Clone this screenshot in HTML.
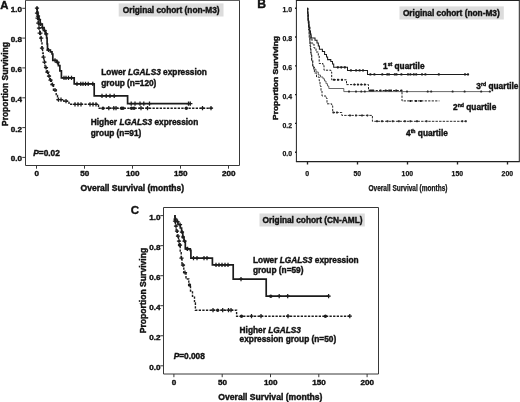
<!DOCTYPE html>
<html lang="en">
<head>
<meta charset="utf-8">
<title>Overall survival by LGALS3 expression</title>
<style>
html,body{margin:0;padding:0;background:#fff;}
body{width:520px;height:402px;overflow:hidden;}
svg{display:block;font-family:"Liberation Sans", sans-serif;fill:#111;filter:blur(.3px);}
text{stroke:#111;stroke-width:.4px;paint-order:stroke;}
text.n{stroke-width:.25px;}
</style>
</head>
<body>
<svg width="520" height="402" viewBox="0 0 520 402">
<rect width="520" height="402" fill="#fff"/>
<path d="M25.5 0.3 H239.5 V165.5 H25.5 Z" fill="none" stroke="#383838" stroke-width="1.0"/>
<path d="M36.5 165.5 v3.2 M84.5 165.5 v3.2 M132.5 165.5 v3.2 M180.5 165.5 v3.2 M228.5 165.5 v3.2 M25.5 8.3 h-3.2 M25.5 38.1 h-3.2 M25.5 67.9 h-3.2 M25.5 97.8 h-3.2 M25.5 127.6 h-3.2 M25.5 157.4 h-3.2 " fill="none" stroke="#383838" stroke-width="1.0"/>
<text x="22.0" y="12.3" font-size="8.1" font-weight="bold" text-anchor="end" >1.0</text>
<text x="22.0" y="42.1" font-size="8.1" font-weight="bold" text-anchor="end" >0.8</text>
<text x="22.0" y="71.9" font-size="8.1" font-weight="bold" text-anchor="end" >0.6</text>
<text x="22.0" y="101.8" font-size="8.1" font-weight="bold" text-anchor="end" >0.4</text>
<text x="22.0" y="131.6" font-size="8.1" font-weight="bold" text-anchor="end" >0.2</text>
<text x="22.0" y="161.4" font-size="8.1" font-weight="bold" text-anchor="end" >0.0</text>
<text x="36.7" y="176.3" font-size="8.1" font-weight="bold" text-anchor="middle" >0</text>
<text x="84.7" y="176.3" font-size="8.1" font-weight="bold" text-anchor="middle" >50</text>
<text x="132.7" y="176.3" font-size="8.1" font-weight="bold" text-anchor="middle" >100</text>
<text x="180.7" y="176.3" font-size="8.1" font-weight="bold" text-anchor="middle" >150</text>
<text x="228.7" y="176.3" font-size="8.1" font-weight="bold" text-anchor="middle" >200</text>
<text x="132.3" y="191.0" font-size="8.55" font-weight="bold" text-anchor="middle" >Overall Survival (months)</text>
<text transform="translate(8.2 84) rotate(-90)" font-size="8.45" font-weight="bold" text-anchor="middle">Proportion Surviving</text>
<text x="0.2" y="8.6" font-size="11.3" font-weight="bold" text-anchor="start" >A</text>
<rect x="118.7" y="3.4" width="104.8" height="13.1" fill="#dcdcdc"/>
<text x="171.2" y="13.2" font-size="8.3" font-weight="bold" text-anchor="middle" >Original cohort (non-M3)</text>
<text x="101.3" y="75.3" font-size="8.3" font-weight="bold" text-anchor="start" >Lower <tspan font-style="italic">LGALS3</tspan> expression</text>
<text x="101.3" y="85.5" font-size="8.3" font-weight="bold" text-anchor="start" >group (n=120)</text>
<text x="90.8" y="125.0" font-size="8.3" font-weight="bold" text-anchor="start" >Higher <tspan font-style="italic">LGALS3</tspan> expression</text>
<text x="90.8" y="135.5" font-size="8.3" font-weight="bold" text-anchor="start" >group (n=91)</text>
<text x="33.3" y="156.3" font-size="8.3" font-weight="bold" text-anchor="start" ><tspan font-style="italic">P</tspan>=0.02</text>
<path d="M36.50 8.20 H37.20 V12.00 H37.90 V16.00 H38.80 V19.50 H40.20 V24.00 H42.30 V27.60 H44.00 V30.50 H45.50 V33.80 H46.60 V38.00 H47.10 V44.00 H47.50 V50.00 H50.40 V51.80 H52.00 V54.00 H52.80 V60.30 H56.70 V62.40 H58.40 V65.60 H59.90 V70.90 H61.40 V77.80 H74.20 V83.80 H94.20 V95.80 H127.60 V103.60 H190.00 V103.60" fill="none" stroke="#1c1c1c" stroke-width="1.7"/>
<path d="M34.90 8.20 h4.20 M37.00 6.10 v4.20 M35.90 16.00 h4.20 M38.00 13.90 v4.20 M36.90 19.50 h4.20 M39.00 17.40 v4.20 M38.50 24.00 h4.20 M40.60 21.90 v4.20 M40.40 27.60 h4.20 M42.50 25.50 v4.20 M42.50 30.50 h4.20 M44.60 28.40 v4.20 M44.10 33.80 h4.20 M46.20 31.70 v4.20 M46.40 50.00 h4.20 M48.50 47.90 v4.20 M52.90 60.30 h4.20 M55.00 58.20 v4.20 M55.40 62.40 h4.20 M57.50 60.30 v4.20 M61.90 77.80 h4.20 M64.00 75.70 v4.20 M63.90 77.80 h4.20 M66.00 75.70 v4.20 M66.40 77.80 h4.20 M68.50 75.70 v4.20 M69.40 77.80 h4.20 M71.50 75.70 v4.20 M74.90 83.80 h4.20 M77.00 81.70 v4.20 M78.70 83.80 h4.20 M80.80 81.70 v4.20 M80.90 83.80 h4.20 M83.00 81.70 v4.20 M83.40 83.80 h4.20 M85.50 81.70 v4.20 M86.10 83.80 h4.20 M88.20 81.70 v4.20 M90.70 83.80 h4.20 M92.80 81.70 v4.20 M99.90 95.80 h4.20 M102.00 93.70 v4.20 M104.10 95.80 h4.20 M106.20 93.70 v4.20 M107.90 95.80 h4.20 M110.00 93.70 v4.20 M112.10 95.80 h4.20 M114.20 93.70 v4.20 M129.10 103.60 h4.20 M131.20 101.50 v4.20 M132.90 103.60 h4.20 M135.00 101.50 v4.20 M137.90 103.60 h4.20 M140.00 101.50 v4.20 M141.70 103.60 h4.20 M143.80 101.50 v4.20 M147.40 103.60 h4.20 M149.50 101.50 v4.20 M186.40 103.60 h4.20 M188.50 101.50 v4.20 M188.20 103.60 h4.20 M190.30 101.50 v4.20 " fill="none" stroke="#1c1c1c" stroke-width="1.25"/>
<path d="M36.50 8.20 H37.00 V13.00 H37.60 V18.00 H38.30 V23.00 H39.00 V28.00 H39.70 V33.00 H40.50 V38.00 H41.30 V43.00 H42.00 V48.00 H42.60 V53.00 H43.20 V57.00 H44.00 V62.00 H45.00 V67.50 H46.50 V72.00 H48.30 V76.00 H49.80 V80.00 H51.40 V84.50 H53.50 V90.00 H56.20 V95.50 H57.50 V99.70 H63.80 V101.20 H69.00 V104.30 H98.50 V108.20 H212.50 V108.20" fill="none" stroke="#1c1c1c" stroke-width="1.4" stroke-dasharray="2.3 1.3"/>
<path d="M34.90 13.00 h4.20 M37.00 10.90 v4.20 M35.50 18.00 h4.20 M37.60 15.90 v4.20 M36.20 23.00 h4.20 M38.30 20.90 v4.20 M36.90 28.00 h4.20 M39.00 25.90 v4.20 M37.60 33.00 h4.20 M39.70 30.90 v4.20 M38.30 33.00 h4.20 M40.40 30.90 v4.20 M39.10 38.00 h4.20 M41.20 35.90 v4.20 M39.90 48.00 h4.20 M42.00 45.90 v4.20 M41.40 57.00 h4.20 M43.50 54.90 v4.20 M42.40 62.00 h4.20 M44.50 59.90 v4.20 M43.90 67.50 h4.20 M46.00 65.40 v4.20 M45.40 72.00 h4.20 M47.50 69.90 v4.20 M46.90 76.00 h4.20 M49.00 73.90 v4.20 M48.40 80.00 h4.20 M50.50 77.90 v4.20 M50.40 84.50 h4.20 M52.50 82.40 v4.20 M52.90 90.00 h4.20 M55.00 87.90 v4.20 M56.40 99.70 h4.20 M58.50 97.60 v4.20 M58.90 99.70 h4.20 M61.00 97.60 v4.20 M63.90 101.20 h4.20 M66.00 99.10 v4.20 M72.90 104.30 h4.20 M75.00 102.20 v4.20 M75.90 104.30 h4.20 M78.00 102.20 v4.20 M78.90 104.30 h4.20 M81.00 102.20 v4.20 M87.90 104.30 h4.20 M90.00 102.20 v4.20 M90.90 104.30 h4.20 M93.00 102.20 v4.20 M93.90 104.30 h4.20 M96.00 102.20 v4.20 M106.70 108.20 h4.20 M108.80 106.10 v4.20 M111.70 108.20 h4.20 M113.80 106.10 v4.20 M113.90 108.20 h4.20 M116.00 106.10 v4.20 M138.90 108.20 h4.20 M141.00 106.10 v4.20 M145.40 108.20 h4.20 M147.50 106.10 v4.20 M200.40 108.20 h4.20 M202.50 106.10 v4.20 M208.90 108.20 h4.20 M211.00 106.10 v4.20 " fill="none" stroke="#1c1c1c" stroke-width="1.25"/>
<circle cx="103.00" cy="108.20" r="1.7" fill="#1c1c1c"/>
<circle cx="121.50" cy="108.20" r="1.7" fill="#1c1c1c"/>
<circle cx="123.00" cy="108.20" r="1.7" fill="#1c1c1c"/>
<circle cx="131.50" cy="108.20" r="1.7" fill="#1c1c1c"/>
<circle cx="134.00" cy="108.20" r="1.7" fill="#1c1c1c"/>
<circle cx="186.30" cy="108.20" r="1.7" fill="#1c1c1c"/>
<path d="M295.9 0.4 H519.8 M295.9 161.6 H519.8" fill="none" stroke="#222" stroke-width="1.35"/>
<path d="M296.4 0.4 V161.6 M519.3 0.4 V161.6" fill="none" stroke="#222" stroke-width="1.0"/>
<path d="M307.5 161.6 v3.0 M357.5 161.6 v3.0 M407.5 161.6 v3.0 M457.5 161.6 v3.0 M507.5 161.6 v3.0 M296.4 8.2 h-1.4 M296.4 37.0 h-1.4 M296.4 65.8 h-1.4 M296.4 94.6 h-1.4 M296.4 123.4 h-1.4 M296.4 152.2 h-1.4 " fill="none" stroke="#222" stroke-width="1.35"/>
<text class="n" x="292.0" y="12.399999999999999" font-size="7.8" font-weight="600" text-anchor="end" textLength="9.6" lengthAdjust="spacingAndGlyphs">1.0</text>
<text class="n" x="292.0" y="41.2" font-size="7.8" font-weight="600" text-anchor="end" textLength="9.6" lengthAdjust="spacingAndGlyphs">0.8</text>
<text class="n" x="292.0" y="70.0" font-size="7.8" font-weight="600" text-anchor="end" textLength="9.6" lengthAdjust="spacingAndGlyphs">0.6</text>
<text class="n" x="292.0" y="98.8" font-size="7.8" font-weight="600" text-anchor="end" textLength="9.6" lengthAdjust="spacingAndGlyphs">0.4</text>
<text class="n" x="292.0" y="127.60000000000001" font-size="7.8" font-weight="600" text-anchor="end" textLength="9.6" lengthAdjust="spacingAndGlyphs">0.2</text>
<text class="n" x="292.0" y="156.39999999999998" font-size="7.8" font-weight="600" text-anchor="end" textLength="9.6" lengthAdjust="spacingAndGlyphs">0.0</text>
<text class="n" x="307.3" y="175.7" font-size="7.8" font-weight="600" text-anchor="middle" textLength="3.9" lengthAdjust="spacingAndGlyphs">0</text>
<text class="n" x="357.3" y="175.7" font-size="7.8" font-weight="600" text-anchor="middle" textLength="7.7" lengthAdjust="spacingAndGlyphs">50</text>
<text class="n" x="407.3" y="175.7" font-size="7.8" font-weight="600" text-anchor="middle" textLength="11.5" lengthAdjust="spacingAndGlyphs">100</text>
<text class="n" x="457.3" y="175.7" font-size="7.8" font-weight="600" text-anchor="middle" textLength="11.5" lengthAdjust="spacingAndGlyphs">150</text>
<text class="n" x="507.3" y="175.7" font-size="7.8" font-weight="600" text-anchor="middle" textLength="11.5" lengthAdjust="spacingAndGlyphs">200</text>
<text class="n" x="408.0" y="190.8" font-size="8.2" font-weight="600" text-anchor="middle" textLength="79" lengthAdjust="spacingAndGlyphs">Overall Survival (months)</text>
<text transform="translate(278.2 78) rotate(-90)" font-size="6.6" font-weight="bold" text-anchor="middle" textLength="84" lengthAdjust="spacingAndGlyphs">Proportion Surviving</text>
<text x="257.2" y="8.4" font-size="12.2" font-weight="bold" text-anchor="start" >B</text>
<rect x="399.5" y="6.4" width="104.3" height="13.1" fill="#dcdcdc"/>
<text x="451.3" y="16.0" font-size="8.3" font-weight="bold" text-anchor="middle" >Original cohort (non-M3)</text>
<text x="383.0" y="68.6" font-size="8.3" font-weight="bold" text-anchor="start" >1<tspan font-size="5.2" dy="-3">st</tspan><tspan dy="3"> quartile</tspan></text>
<text x="476.3" y="89.2" font-size="8.3" font-weight="bold" text-anchor="start" >3<tspan font-size="5.2" dy="-3">rd</tspan><tspan dy="3"> quartile</tspan></text>
<text x="453.0" y="110.2" font-size="8.3" font-weight="bold" text-anchor="start" >2<tspan font-size="5.2" dy="-3">nd</tspan><tspan dy="3"> quartile</tspan></text>
<text x="406.0" y="135.6" font-size="8.3" font-weight="bold" text-anchor="start" >4<tspan font-size="5.2" dy="-3">th</tspan><tspan dy="3"> quartile</tspan></text>
<path d="M307.40 8.20 H307.70 V15.00 H308.10 V22.00 H308.60 V30.00 H309.20 V38.00 H309.90 V46.00 H310.70 V53.00 H311.60 V60.00 H312.80 V67.00 H314.40 V73.00 H316.50 V77.00 H319.20 V80.80 H320.00 V86.00 H321.00 V91.00 H322.00 V96.00 H326.00 V98.00 H327.00 V103.80 H331.70 V105.80 H332.70 V112.50 H341.80 V115.40 H372.40 V121.30 H466.00 V121.30" fill="none" stroke="#2a2a2a" stroke-width="1.0" stroke-dasharray="2.4 1.2"/>
<path d="M332.50 112.50 h2.00 M333.50 111.50 v2.00 M336.00 112.50 h2.00 M337.00 111.50 v2.00 M349.00 115.40 h2.00 M350.00 114.40 v2.00 M355.00 115.40 h2.00 M356.00 114.40 v2.00 M361.00 115.40 h2.00 M362.00 114.40 v2.00 M366.40 115.40 h2.00 M367.40 114.40 v2.00 M376.00 121.30 h2.00 M377.00 120.30 v2.00 M381.00 121.30 h2.00 M382.00 120.30 v2.00 M386.50 121.30 h2.00 M387.50 120.30 v2.00 M391.70 121.30 h2.00 M392.70 120.30 v2.00 M397.80 121.30 h2.00 M398.80 120.30 v2.00 M403.90 121.30 h2.00 M404.90 120.30 v2.00 M409.40 121.30 h2.00 M410.40 120.30 v2.00 M416.00 121.30 h2.00 M417.00 120.30 v2.00 M425.50 121.30 h2.00 M426.50 120.30 v2.00 M461.30 121.30 h2.00 M462.30 120.30 v2.00 M464.80 121.30 h2.00 M465.80 120.30 v2.00 " fill="none" stroke="#2a2a2a" stroke-width="1.4"/>
<path d="M307.40 8.20 H307.70 V14.00 H308.10 V21.00 H308.60 V28.00 H309.20 V35.00 H309.80 V42.00 H310.40 V49.00 H311.00 V55.00 H311.80 V61.00 H312.60 V66.00 H313.50 V69.20 H316.00 V72.00 H318.30 V75.00 H320.50 V77.00 H323.00 V78.80 H324.50 V81.00 H326.00 V83.70 H327.50 V86.00 H328.80 V88.50 H343.80 V91.60 H490.80 V91.60" fill="none" stroke="#2a2a2a" stroke-width="0.7"/>
<path d="M348.00 91.60 h2.00 M349.00 90.60 v2.00 M355.00 91.60 h2.00 M356.00 90.60 v2.00 M360.30 91.60 h2.00 M361.30 90.60 v2.00 M363.80 91.60 h2.00 M364.80 90.60 v2.00 M406.00 91.60 h2.00 M407.00 90.60 v2.00 M426.70 91.60 h2.00 M427.70 90.60 v2.00 M430.20 91.60 h2.00 M431.20 90.60 v2.00 M451.60 91.60 h2.00 M452.60 90.60 v2.00 M463.60 91.60 h2.00 M464.60 90.60 v2.00 M480.20 91.60 h2.00 M481.20 90.60 v2.00 M488.80 91.60 h2.00 M489.80 90.60 v2.00 " fill="none" stroke="#2a2a2a" stroke-width="1.4"/>
<path d="M307.40 8.20 H307.80 V14.00 H308.30 V20.00 H309.00 V27.00 H309.80 V33.00 H310.80 V39.00 H312.00 V44.00 H314.00 V48.00 H316.00 V52.00 H318.30 V55.80 H319.20 V63.50 H323.00 V65.40 H324.00 V70.20 H330.80 V72.00 H331.70 V79.80 H346.50 V84.60 H368.50 V90.50 H402.00 V100.90 H439.40 V100.90" fill="none" stroke="#1c1c1c" stroke-width="1.0" stroke-dasharray="2.2 1.3"/>
<path d="M333.00 79.80 h2.00 M334.00 78.80 v2.00 M337.00 79.80 h2.00 M338.00 78.80 v2.00 M341.00 79.80 h2.00 M342.00 78.80 v2.00 M353.40 84.60 h2.00 M354.40 83.60 v2.00 M356.90 84.60 h2.00 M357.90 83.60 v2.00 M360.30 84.60 h2.00 M361.30 83.60 v2.00 M363.80 84.60 h2.00 M364.80 83.60 v2.00 M369.20 90.50 h2.00 M370.20 89.50 v2.00 M370.80 90.50 h2.00 M371.80 89.50 v2.00 M372.20 90.50 h2.00 M373.20 89.50 v2.00 M379.50 90.50 h2.00 M380.50 89.50 v2.00 M384.70 90.50 h2.00 M385.70 89.50 v2.00 M388.20 90.50 h2.00 M389.20 89.50 v2.00 M390.00 90.50 h2.00 M391.00 89.50 v2.00 M395.20 90.50 h2.00 M396.20 89.50 v2.00 M400.40 90.50 h2.00 M401.40 89.50 v2.00 M409.40 100.90 h2.00 M410.40 99.90 v2.00 M415.00 100.90 h2.00 M416.00 99.90 v2.00 M419.80 100.90 h2.00 M420.80 99.90 v2.00 " fill="none" stroke="#1c1c1c" stroke-width="1.4"/>
<path d="M307.40 8.20 H307.70 V13.00 H308.00 V18.00 H308.30 V23.00 H309.00 V27.00 H309.70 V31.00 H310.50 V35.00 H311.20 V38.00 H315.00 V40.30 H317.00 V43.00 H318.30 V46.00 H319.40 V49.30 H322.40 V51.50 H324.60 V54.50 H326.50 V57.00 H327.60 V59.60 H330.80 V61.50 H332.50 V64.00 H333.70 V67.30 H347.50 V70.40 H367.50 V74.40 H468.30 V74.40" fill="none" stroke="#1c1c1c" stroke-width="1.05"/>
<path d="M336.70 67.30 h2.20 M337.80 66.20 v2.20 M340.20 67.30 h2.20 M341.30 66.20 v2.20 M343.70 67.30 h2.20 M344.80 66.20 v2.20 M349.80 70.40 h2.20 M350.90 69.30 v2.20 M355.00 70.40 h2.20 M356.10 69.30 v2.20 M358.50 70.40 h2.20 M359.60 69.30 v2.20 M361.90 70.40 h2.20 M363.00 69.30 v2.20 M369.30 74.40 h2.20 M370.40 73.30 v2.20 M373.30 74.40 h2.20 M374.40 73.30 v2.20 M381.20 74.40 h2.20 M382.30 73.30 v2.20 M386.20 74.40 h2.20 M387.30 73.30 v2.20 M387.90 74.40 h2.20 M389.00 73.30 v2.20 M393.70 74.40 h2.20 M394.80 73.30 v2.20 M395.40 74.40 h2.20 M396.50 73.30 v2.20 M400.30 74.40 h2.20 M401.40 73.30 v2.20 M406.90 74.40 h2.20 M408.00 73.30 v2.20 M409.30 74.40 h2.20 M410.40 73.30 v2.20 M412.70 74.40 h2.20 M413.80 73.30 v2.20 M415.10 74.40 h2.20 M416.20 73.30 v2.20 M420.90 74.40 h2.20 M422.00 73.30 v2.20 M424.30 74.40 h2.20 M425.40 73.30 v2.20 M437.70 74.40 h2.20 M438.80 73.30 v2.20 M463.90 74.40 h2.20 M465.00 73.30 v2.20 M466.90 74.40 h2.20 M468.00 73.30 v2.20 " fill="none" stroke="#1c1c1c" stroke-width="1.5"/>
<path d="M163.5 207.5 H378.5 V374.0 H163.5 Z" fill="none" stroke="#383838" stroke-width="1.0"/>
<path d="M173.9 374.0 v3.2 M222.2 374.0 v3.2 M270.5 374.0 v3.2 M318.8 374.0 v3.2 M367.1 374.0 v3.2 M163.5 215.6 h-3.2 M163.5 245.65 h-3.2 M163.5 275.7 h-3.2 M163.5 305.7 h-3.2 M163.5 335.75 h-3.2 M163.5 365.8 h-3.2 " fill="none" stroke="#383838" stroke-width="1.0"/>
<text x="160.4" y="219.7" font-size="8.1" font-weight="bold" text-anchor="end" >1.0</text>
<text x="160.4" y="249.75" font-size="8.1" font-weight="bold" text-anchor="end" >0.8</text>
<text x="160.4" y="279.8" font-size="8.1" font-weight="bold" text-anchor="end" >0.6</text>
<text x="160.4" y="309.8" font-size="8.1" font-weight="bold" text-anchor="end" >0.4</text>
<text x="160.4" y="339.85" font-size="8.1" font-weight="bold" text-anchor="end" >0.2</text>
<text x="160.4" y="369.90000000000003" font-size="8.1" font-weight="bold" text-anchor="end" >0.0</text>
<text x="174.1" y="385.3" font-size="8.1" font-weight="bold" text-anchor="middle" >0</text>
<text x="222.39999999999998" y="385.3" font-size="8.1" font-weight="bold" text-anchor="middle" >50</text>
<text x="270.7" y="385.3" font-size="8.1" font-weight="bold" text-anchor="middle" >100</text>
<text x="319.0" y="385.3" font-size="8.1" font-weight="bold" text-anchor="middle" >150</text>
<text x="367.3" y="385.3" font-size="8.1" font-weight="bold" text-anchor="middle" >200</text>
<text x="270.4" y="399.6" font-size="8.6" font-weight="bold" text-anchor="middle" >Overall Survival (months)</text>
<text transform="translate(146.2 290.5) rotate(-90)" font-size="8.6" font-weight="bold" text-anchor="middle">Proportion Surviving</text>
<text x="130.8" y="214.3" font-size="11.5" font-weight="bold" text-anchor="start" >C</text>
<rect x="259.5" y="213.5" width="105.3" height="13" fill="#dcdcdc"/>
<text x="312.6" y="223.2" font-size="8.3" font-weight="bold" text-anchor="middle" >Original cohort (CN-AML)</text>
<text x="253.0" y="262.9" font-size="8.3" font-weight="bold" text-anchor="start" >Lower <tspan font-style="italic">LGALS3</tspan> expression</text>
<text x="253.0" y="272.7" font-size="8.3" font-weight="bold" text-anchor="start" >group (n=59)</text>
<text x="239.6" y="332.9" font-size="8.3" font-weight="bold" text-anchor="start" >Higher <tspan font-style="italic">LGALS3</tspan></text>
<text x="239.6" y="342.3" font-size="8.3" font-weight="bold" text-anchor="start" >expression group (n=50)</text>
<text x="173.7" y="358.8" font-size="8.3" font-weight="bold" text-anchor="start" ><tspan font-style="italic">P</tspan>=0.008</text>
<path d="M174.30 215.80 H175.00 V219.00 H175.80 V221.50 H178.00 V224.50 H180.30 V228.00 H181.60 V232.00 H182.80 V237.00 H184.00 V241.00 H185.30 V248.80 H190.30 V250.30 H190.90 V258.20 H212.40 V264.80 H233.20 V279.20 H266.20 V296.20 H329.30 V296.20" fill="none" stroke="#1c1c1c" stroke-width="1.7"/>
<path d="M173.40 219.00 h4.20 M175.50 216.90 v4.20 M175.40 221.50 h4.20 M177.50 219.40 v4.20 M177.90 224.50 h4.20 M180.00 222.40 v4.20 M179.90 232.00 h4.20 M182.00 229.90 v4.20 M182.40 241.00 h4.20 M184.50 238.90 v4.20 M185.40 248.80 h4.20 M187.50 246.70 v4.20 M191.40 258.20 h4.20 M193.50 256.10 v4.20 M194.90 258.20 h4.20 M197.00 256.10 v4.20 M201.90 258.20 h4.20 M204.00 256.10 v4.20 M204.90 258.20 h4.20 M207.00 256.10 v4.20 M213.90 264.80 h4.20 M216.00 262.70 v4.20 M216.90 264.80 h4.20 M219.00 262.70 v4.20 M219.90 264.80 h4.20 M222.00 262.70 v4.20 M222.90 264.80 h4.20 M225.00 262.70 v4.20 M225.90 264.80 h4.20 M228.00 262.70 v4.20 M238.90 279.20 h4.20 M241.00 277.10 v4.20 M277.10 296.20 h4.20 M279.20 294.10 v4.20 M285.60 296.20 h4.20 M287.70 294.10 v4.20 M326.50 296.20 h4.20 M328.60 294.10 v4.20 " fill="none" stroke="#1c1c1c" stroke-width="1.25"/>
<circle cx="182.90" cy="237.00" r="1.7" fill="#1c1c1c"/>
<circle cx="187.00" cy="248.80" r="1.7" fill="#1c1c1c"/>
<circle cx="270.80" cy="296.20" r="1.7" fill="#1c1c1c"/>
<path d="M174.30 215.80 H174.80 V221.00 H175.40 V226.00 H176.20 V231.00 H177.30 V236.00 H178.50 V241.00 H179.50 V245.00 H180.20 V252.00 H181.20 V258.00 H182.00 V265.00 H183.80 V272.50 H186.00 V279.00 H188.80 V285.00 H190.50 V291.00 H192.50 V296.30 H194.50 V303.00 H195.40 V310.20 H236.60 V316.20 H350.50 V316.20" fill="none" stroke="#1c1c1c" stroke-width="1.4" stroke-dasharray="2.3 1.3"/>
<path d="M172.90 221.00 h4.20 M175.00 218.90 v4.20 M173.90 226.00 h4.20 M176.00 223.90 v4.20 M174.90 231.00 h4.20 M177.00 228.90 v4.20 M175.90 236.00 h4.20 M178.00 233.90 v4.20 M176.90 241.00 h4.20 M179.00 238.90 v4.20 M177.90 245.00 h4.20 M180.00 242.90 v4.20 M179.40 258.00 h4.20 M181.50 255.90 v4.20 M180.90 265.00 h4.20 M183.00 262.90 v4.20 M182.90 272.50 h4.20 M185.00 270.40 v4.20 M210.90 310.20 h4.20 M213.00 308.10 v4.20 M220.60 310.20 h4.20 M222.70 308.10 v4.20 M226.40 310.20 h4.20 M228.50 308.10 v4.20 M228.90 310.20 h4.20 M231.00 308.10 v4.20 M249.40 316.20 h4.20 M251.50 314.10 v4.20 M258.90 316.20 h4.20 M261.00 314.10 v4.20 M285.90 316.20 h4.20 M288.00 314.10 v4.20 M347.70 316.20 h4.20 M349.80 314.10 v4.20 " fill="none" stroke="#1c1c1c" stroke-width="1.25"/>
<circle cx="179.60" cy="245.00" r="1.7" fill="#1c1c1c"/>
<circle cx="189.50" cy="285.00" r="1.7" fill="#1c1c1c"/>
<circle cx="217.70" cy="310.20" r="1.7" fill="#1c1c1c"/>
<circle cx="241.50" cy="316.20" r="1.7" fill="#1c1c1c"/>
<circle cx="325.40" cy="316.20" r="1.7" fill="#1c1c1c"/>
</svg>
</body>
</html>
